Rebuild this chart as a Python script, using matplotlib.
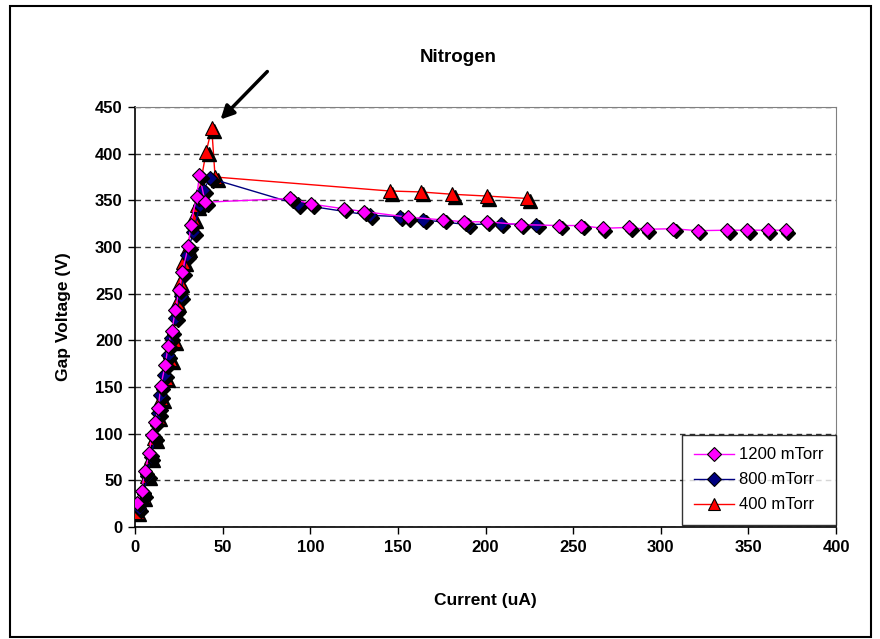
import matplotlib
matplotlib.use("Agg")
import matplotlib.pyplot as plt
from matplotlib.transforms import offset_copy
from matplotlib.patches import Rectangle
from matplotlib.lines import Line2D

plt.rcParams['font.family'] = ['Liberation Sans', 'DejaVu Sans']

title = "Nitrogen"
xlabel = "Current (uA)"
ylabel = "Gap Voltage (V)"
xticks = [0, 50, 100, 150, 200, 250, 300, 350, 400]
yticks = [0, 50, 100, 150, 200, 250, 300, 350, 400, 450]

# 1200 mTorr
x1200 = [1.3, 3.8, 5.7, 8.2, 9.5, 11.4, 13.3, 14.7, 17.3, 18.9, 21.0, 23.0, 25.1, 26.9, 30.5,
         31.8, 35.2, 36.8, 40.0, 88.6, 100.6, 119.0, 130.5, 155.6, 176.0, 187.6, 200.6, 220.0,
         242.0, 254.5, 267.0, 282.0, 292.0, 307.0, 321.0, 338.0, 349.5, 361.0, 371.4]
y1200 = [26, 39, 60, 79, 99, 112, 128, 151, 174, 194, 210, 232, 254, 273, 301,
         324, 354, 377, 348, 352, 346, 341, 338, 332, 329, 327, 327, 324,
         323, 323, 320, 321, 319, 319.6, 317.5, 318, 318, 318, 318]

# 800 mTorr
x800 = [2.0, 5.0, 7.0, 9.0, 11.4, 13.3, 14.3, 16.6, 18.6, 20.4, 22.9, 26.0, 29.5, 33.3, 37.0,
        39.0, 42.9, 92.8, 134.0, 151.0, 164.5, 190.0, 208.6, 229.0]
y800 = [20, 35, 55, 75, 96, 122, 141, 163, 184, 203, 224, 247.5, 291, 316, 345,
        361, 373.6, 345.7, 334, 332.5, 329, 324, 325, 323.6]

# 400 mTorr
x400 = [1.0, 4.5, 7.0, 9.0, 11.0, 13.0, 15.0, 17.5, 20.0, 22.0, 23.8, 25.5, 27.4, 30.0, 33.3,
        35.2, 40.6, 43.8, 45.7, 145.3, 163.0, 181.0, 200.6, 223.8]
y400 = [16.5, 33, 55, 75, 95, 118, 138, 160, 180, 200, 241, 262, 284, 300, 331,
        345, 402, 427, 375, 360, 359, 356.5, 354.6, 352]

labels = ["1200 mTorr", "800 mTorr", "400 mTorr"]

fig = plt.figure(figsize=(8.8, 6.39), dpi=100)
ax = fig.add_axes([135/880, 1-527/639, (836-135)/880, (527-107)/639])

shadow = offset_copy(ax.transData, fig=fig, x=2.5, y=-2.5, units='dots')

series = [
    (x400, y400, '#FF0000', '^', 9.5, labels[2]),
    (x800, y800, '#000080', 'D', 7.5, labels[1]),
    (x1200, y1200, '#FF00FF', 'D', 7.5, labels[0]),
]
styles = {}
for i, (xs, ys, c, m, ms, lab) in enumerate(series):
    ax.plot(xs, ys, color=c, lw=1, zorder=2 + i * 3)
    ax.plot(xs, ys, ls='none', marker=m, ms=ms, color='black', mec='black',
            transform=shadow, zorder=3 + i * 3)
    ax.plot(xs, ys, ls='none', marker=m, ms=ms, mfc=c, mec='black', mew=0.8,
            zorder=4 + i * 3)
    styles[lab] = (c, m, ms)

leg_handles = [Line2D([], [], color=styles[l][0], lw=1, marker=styles[l][1],
                      ms=styles[l][2] - 0.5, mfc=styles[l][0], mec='black', mew=0.8)
               for l in labels]
leg = ax.legend(leg_handles, labels, loc='lower right', bbox_to_anchor=(1.0, 0.005),
                borderaxespad=0, fontsize=12, frameon=True, fancybox=False,
                handlelength=2.4, borderpad=0.75, labelspacing=0.6, handletextpad=0.3)
leg.get_frame().set_edgecolor('black')
leg.get_frame().set_linewidth(1.0)
leg.set_zorder(20)

ax.set_xlim(xticks[0], xticks[-1])
ax.set_ylim(yticks[0], yticks[-1])
ax.set_xticks(xticks)
ax.set_yticks(yticks)
ax.tick_params(direction='out', length=5, width=1, labelsize=12, pad=4)
for t in ax.get_xticklabels() + ax.get_yticklabels():
    t.set_fontweight('bold')

ax.yaxis.grid(True, color='#333333', linestyle=(0, (4, 3)), lw=1)
ax.set_axisbelow(True)
ax.spines['left'].set_color('black')
ax.spines['bottom'].set_color('black')
ax.spines['top'].set_color('#808080')
ax.spines['right'].set_color('#808080')
ax.spines['left'].set_linewidth(1.2)
ax.spines['bottom'].set_linewidth(1.2)

ax.set_xlabel(xlabel, fontsize=12.5, fontweight='bold', labelpad=28)
ax.set_ylabel(ylabel, fontsize=12.5, fontweight='bold', labelpad=17)
fig.text(458/880, 1-58/639, title, fontsize=13.5, fontweight='bold', ha='center', va='center')

# arrow pointing to the 400 mTorr peak
ipk = y400.index(max(y400))
ax.annotate('', xy=(x400[ipk], y400[ipk]), xytext=(40, 41), textcoords='offset points',
            annotation_clip=False,
            arrowprops=dict(arrowstyle='-|>,head_length=0.8,head_width=0.4', lw=2.5,
                            color='black', shrinkA=0, shrinkB=9))

fig.patches.append(Rectangle((10/880, 2/639), 861/880, 631/639, transform=fig.transFigure,
                             fill=False, edgecolor='black', lw=1.5))

fig.savefig('out.png', dpi=100)
